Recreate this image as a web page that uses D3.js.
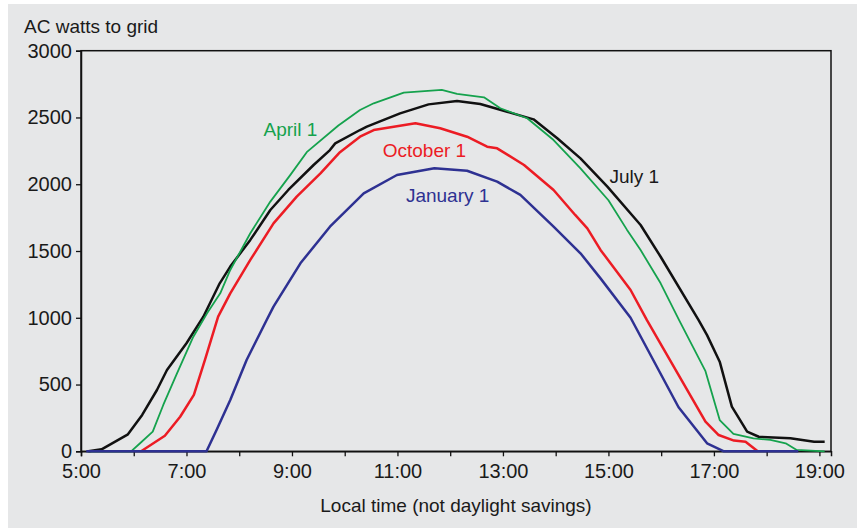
<!DOCTYPE html>
<html>
<head>
<meta charset="utf-8">
<script src="https://cdn.jsdelivr.net/npm/d3@7"></script>
<style>
  body { margin: 0; background: #fff; }
  text { font-family: "Liberation Sans", Arial, sans-serif; fill: #1a1a1a; }
</style>
</head>
<body>
<script>
// hours (local time, decimal) and AC watts for each day
var julyHours = [5.14, 5.39, 5.89, 6.16, 6.44, 6.63, 7.0, 7.32, 7.63, 7.83, 8.21, 8.59, 8.93, 9.41, 9.72, 9.82, 10.29, 10.42, 11.05, 11.59, 12.13, 12.57, 13.08, 13.58, 14.03, 14.47, 14.98, 15.61, 15.99, 16.71, 16.87, 17.11, 17.34, 17.63, 17.85, 18.45, 18.9, 19.1];
var julyWatts = [0, 15, 127, 272, 459, 609, 809, 1008, 1258, 1383, 1583, 1807, 1957, 2144, 2256, 2306, 2406, 2431, 2531, 2598, 2623, 2601, 2543, 2486, 2344, 2194, 1982, 1695, 1457, 983, 870, 671, 334, 147, 109, 97, 72, 72];

var aprilHours = [5.13, 5.95, 6.12, 6.36, 6.56, 6.82, 7.13, 7.39, 7.64, 7.83, 8.21, 8.59, 8.97, 9.28, 9.88, 10.29, 10.55, 11.12, 11.84, 12.13, 12.64, 12.95, 13.46, 13.96, 14.47, 15.0, 15.35, 15.61, 15.99, 16.34, 16.84, 17.11, 17.37, 17.75, 18.07, 18.36, 18.57, 19.1];
var aprilWatts = [0, 0, 60, 147, 347, 584, 858, 1033, 1183, 1358, 1633, 1870, 2070, 2240, 2440, 2556, 2606, 2686, 2706, 2676, 2651, 2569, 2494, 2331, 2119, 1880, 1660, 1507, 1258, 983, 600, 234, 130, 97, 85, 60, 10, 0];

var octoberHours = [6.14, 6.59, 6.88, 7.14, 7.35, 7.6, 7.83, 8.21, 8.65, 9.09, 9.54, 9.91, 10.29, 10.55, 11.34, 11.81, 12.32, 12.7, 12.89, 13.4, 13.96, 14.37, 14.6, 14.85, 15.42, 15.73, 16.84, 17.09, 17.38, 17.6, 17.83];
var octoberWatts = [0, 117, 259, 422, 684, 1008, 1183, 1433, 1707, 1907, 2082, 2240, 2356, 2406, 2456, 2419, 2356, 2281, 2269, 2144, 1957, 1770, 1670, 1508, 1208, 983, 222, 122, 80, 72, 0];

var januaryHours = [5.1, 7.38, 7.57, 7.83, 8.14, 8.52, 8.65, 9.16, 9.72, 10.36, 10.99, 11.7, 12.32, 12.89, 13.33, 13.96, 14.47, 14.85, 15.42, 16.33, 16.87, 17.19, 18.6];
var januaryWatts = [0, 0, 160, 384, 684, 983, 1083, 1408, 1682, 1932, 2069, 2120, 2101, 2019, 1920, 1682, 1483, 1295, 1000, 330, 60, 0, 0];

var xTicks = [5, 6, 7, 8, 9, 10, 11, 12, 13, 14, 15, 16, 17, 18, 19];
var yTicks = [0, 500, 1000, 1500, 2000, 2500, 3000];

var seriesNames = ["July 1", "April 1", "October 1", "January 1"];
var seriesColors = ["#111111", "#15a24d", "#ec1c24", "#2e3192"];
var seriesWidths = [2.5, 1.8, 2.5, 2.5];
// label anchors in data units (hour, watts)
var labelHours = [15.02, 8.46, 10.72, 11.16];
var labelWatts = [2011, 2363, 2206, 1869];

var width = 857, height = 528;
var plotLeft = 81, plotRight = 831, plotTop = 50.7, plotBottom = 451.3;

var svg = d3.select("body").append("svg")
            .attr("width", width)
            .attr("height", height);

svg.append("rect")
   .attr("x", 8).attr("y", 4)
   .attr("width", width - 8).attr("height", height - 4)
   .attr("fill", "#e6e7e8");

var x = d3.scaleLinear().domain([5, 19.22]).range([plotLeft, plotRight]);
var y = d3.scaleLinear().domain([0, 3000]).range([plotBottom, plotTop]);

// plot frame
svg.append("rect")
   .attr("x", plotLeft).attr("y", plotTop)
   .attr("width", plotRight - plotLeft).attr("height", plotBottom - plotTop)
   .attr("fill", "none")
   .attr("stroke", "#111")
   .attr("stroke-width", 1.5);

var yAxis = svg.append("g")
   .attr("transform", "translate(" + plotLeft + ",0)")
   .call(d3.axisLeft(y).tickValues(yTicks).tickSize(5).tickPadding(4).tickFormat(d3.format("d")));

var xAxis = svg.append("g")
   .attr("transform", "translate(0," + plotBottom + ")")
   .call(d3.axisBottom(x).tickValues(xTicks).tickSize(5).tickPadding(8)
     .tickFormat(function(d) { return d % 2 === 1 ? d + ":00" : ""; }));

svg.selectAll(".domain").attr("stroke", "#111").attr("stroke-width", 1.5);
svg.selectAll(".tick line").attr("stroke", "#111").attr("stroke-width", 1.3);
svg.selectAll(".tick text").style("font-size", "20px").attr("fill", "#1a1a1a");

svg.append("text")
   .attr("x", 24).attr("y", 33)
   .style("font-size", "19px")
   .text("AC watts to grid");

svg.append("text")
   .attr("x", (plotLeft + plotRight) / 2).attr("y", 511.5)
   .attr("text-anchor", "middle")
   .style("font-size", "19px")
   .text("Local time (not daylight savings)");

var hours = [julyHours, aprilHours, octoberHours, januaryHours];
var watts = [julyWatts, aprilWatts, octoberWatts, januaryWatts];

var line = d3.line()
   .x(function(d) { return x(d[0]); })
   .y(function(d) { return y(d[1]); });

for (var i = 0; i < seriesNames.length; i++) {
  var pts = d3.zip(hours[i], watts[i]);
  svg.append("path")
     .datum(pts)
     .attr("d", line)
     .attr("fill", "none")
     .attr("stroke", seriesColors[i])
     .attr("stroke-width", seriesWidths[i])
     .attr("stroke-linejoin", "round");

  svg.append("text")
     .attr("x", x(labelHours[i]))
     .attr("y", y(labelWatts[i]))
     .style("font-size", "19px")
     .style("fill", i === 0 ? "#1a1a1a" : seriesColors[i])
     .text(seriesNames[i]);
}
</script>
</body>
</html>
